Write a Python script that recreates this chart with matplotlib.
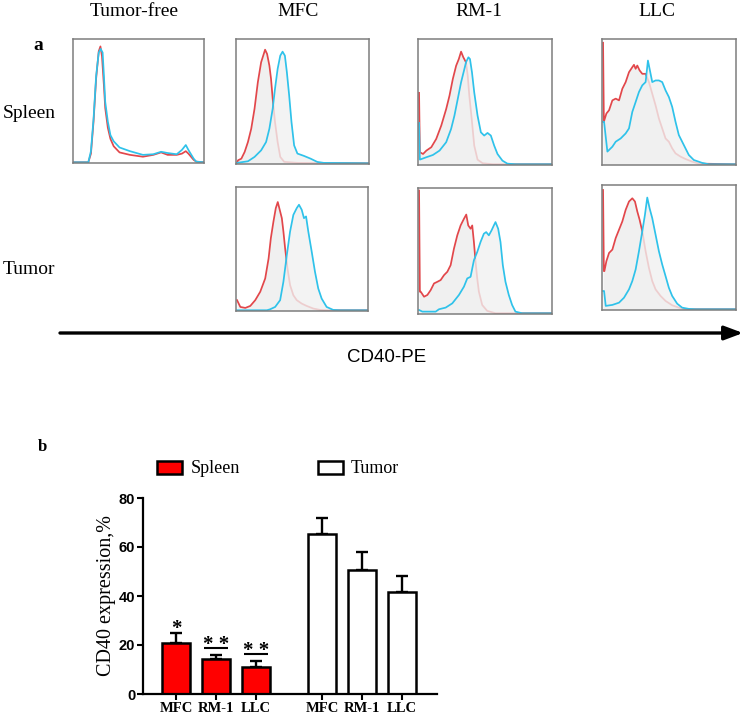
"""CD40 expression on spleen and tumor cells: flow histograms and bar summary."""

import matplotlib.pyplot as plt
import numpy as np

W, H = 743, 720
SERIF = ["Liberation Serif", "DejaVu Serif"]
SANS = ["Liberation Sans", "DejaVu Sans"]
RED = "#e2474b"
BLUE = "#2fc2ea"
FILL = "#f0f0f0"

COLUMNS = ["Tumor-free", "MFC", "RM-1", "LLC"]
ROWS = ["Spleen", "Tumor"]
AXIS_LABEL = "CD40-PE"

# histogram traces, (channel %, count % of panel height); red = control, blue = CD40
TF_SPLEEN_RED = [(0, 0), (11, 0), (13, 7), (15, 33), (17, 68), (19, 90), (20.3, 94), (21.5, 86),
                 (23, 62), (24, 44), (26, 28), (28, 19), (30.5, 13), (35, 8), (43, 6), (53, 4.5),
                 (61, 6), (67, 8), (72, 6), (79, 6), (83, 7), (86, 9), (88, 7), (92, 2), (94, 0.5),
                 (100, 0)]
TF_SPLEEN_BLUE = [(0, 0), (11, 0), (13, 9), (15, 35), (17, 70), (19, 89), (20.5, 92), (22, 89),
                  (23, 70), (24, 49), (26, 33), (28, 22), (30.5, 17), (35, 12), (43, 9), (53, 6),
                  (61, 6.5), (67, 8.5), (72, 7.5), (79, 6.5), (83, 10), (86, 14), (88, 10), (92, 3),
                  (94, 0.5), (100, 0)]

MFC_SPLEEN_RED = [(0, 0.5), (0.75, 2.4), (3.25, 3.7), (5.75, 9.1), (8.25, 17.1), (10.75, 27.8),
                  (13.25, 43.9), (15.75, 65.2), (18.25, 81.3), (20.25, 88), (21.25, 91.4),
                  (22.75, 88), (24.5, 78.6), (25.75, 67.9), (27, 51.9), (28.75, 33.2),
                  (30.75, 17.1), (32.75, 5.1), (35.75, 1.1), (45.75, 0.3), (100, 0)]
MFC_SPLEEN_BLUE = [(0, 0.3), (8.25, 1.6), (13.25, 5.1), (18.25, 10.4), (22, 17.1), (24.5, 27.8),
                   (27, 43.9), (28.75, 59.9), (30.75, 75.9), (32.75, 86.6), (34.5, 89.8),
                   (36.25, 86.6), (37.75, 73.3), (39.5, 54.5), (41.25, 33.2), (43.25, 14.4),
                   (45.75, 7.8), (50.75, 5.9), (55.75, 3.7), (60.75, 1.1), (65.75, 0.3), (100, 0)]

RM1_SPLEEN_RED = [(0, 57), (0.6, 9.6), (3, 8.2), (5.5, 10.9), (9.2, 13.6), (12.9, 20.2),
                  (16.7, 30.9), (20.4, 44.1), (22.9, 54.8), (25.4, 68.1), (27.9, 78.7), (29.9, 84),
                  (31.6, 89.9), (33.3, 85.4), (35.3, 81.4), (36.6, 70.7), (37.8, 54.8),
                  (39.6, 36.2), (41.5, 14.9), (44, 3.7), (47.8, 0.8), (55.5, 0), (100, 0)]
RM1_SPLEEN_BLUE = [(0, 33), (0.6, 3.7), (5.5, 5.6), (10.4, 7.4), (15.4, 10.9), (20.4, 17.6),
                   (24.1, 28.2), (26.6, 38.8), (29.1, 52.1), (31.6, 65.4), (34.1, 76.1),
                   (35.3, 81.4), (37.1, 85.4), (38.3, 84), (39.8, 73.4), (41.5, 57.4), (44, 38.8),
                   (46.5, 25.5), (49, 22.9), (51.5, 25), (54, 22.9), (56.5, 14.9), (59, 8.2),
                   (62.7, 2.9), (66.4, 0.5), (72.6, 0), (100, 0)]

LLC_SPLEEN_RED = [(0, 97), (0.6, 33.9), (2.5, 40.5), (4.5, 43.1), (7, 51), (9.5, 52.4), (12, 51),
                  (14.5, 60.3), (17, 65.6), (19.5, 73.5), (22, 77.5), (23.25, 79.4), (24.5, 76.2),
                  (25.75, 78.8), (27.5, 74.9), (29.5, 72.2), (32, 72.2), (34.5, 65.6), (37, 56.3),
                  (39.5, 47), (42, 36.5), (44.5, 28.6), (47, 20.6), (49.5, 18), (52, 12.7),
                  (54.5, 8.7), (58.25, 6.1), (62, 4.2), (67, 2.1), (72, 0.5), (100, 0)]
LLC_SPLEEN_BLUE = [(0, 33.9), (0.75, 33.9), (3.25, 10.1), (7, 14), (9.5, 18), (13.25, 20.6),
                   (17, 24.6), (19.5, 28.6), (22, 41.8), (24.5, 49.7), (27, 57.7), (29.5, 63),
                   (32, 65.6), (33.75, 82.8), (35, 76.2), (37, 65.6), (39.5, 66.9), (42, 66.9),
                   (44.5, 65.6), (47, 59), (49.5, 53.7), (52, 45.8), (54.5, 33.9), (57, 23.3),
                   (59.5, 18), (62, 12.7), (64.5, 7.4), (68.25, 3.4), (74.5, 1.1), (79.5, 0),
                   (100, 0)]

MFC_TUMOR_RED = [(0, 8.2), (2.5, 2.7), (6.3, 1.9), (10.1, 3.5), (13.9, 8.2), (17.7, 15),
                 (21.5, 25.8), (24.1, 42.1), (25.8, 58.4), (27.8, 72), (29.6, 82.9), (31.1, 87.8),
                 (32.9, 80.2), (34.2, 74.7), (35.4, 63.9), (36.7, 50.3), (38.5, 34), (40.5, 20.4),
                 (43, 12.2), (45.6, 8.2), (49.4, 5.4), (53.2, 3.5), (58.2, 1.4), (63.3, 0.3),
                 (68.4, 0), (100, 0)]
MFC_TUMOR_BLUE = [(0, 0), (22.8, 0), (25.3, 0.8), (29.1, 2.7), (32.9, 8.2), (35.4, 23.1),
                  (38, 44.8), (40.5, 63.9), (43, 77.4), (45.6, 82.9), (47.3, 85.6), (49.4, 81.5),
                  (51.1, 74.7), (52.7, 76.1), (54.4, 63.9), (57, 47.6), (59.5, 31.3), (62, 17.7),
                  (64.6, 9.5), (68.4, 2.7), (73.4, 0.3), (78.5, 0), (100, 0)]

RM1_TUMOR_RED = [(0, 98), (0.6, 17.2), (1.25, 17.2), (3.75, 13.2), (6.25, 14.6), (8.75, 18.5),
                 (11.25, 23.8), (13.75, 25.1), (16.25, 26.5), (18.75, 30.4), (21.25, 33.1),
                 (23.75, 38.4), (26.25, 51.6), (28.75, 62.2), (31.25, 70.1), (33.75, 75.4),
                 (35.5, 78.8), (37, 70.1), (38.75, 67.5), (40, 70.1), (41.25, 56.9), (42.5, 41),
                 (43.75, 27.8), (45, 17.2), (47.5, 6.6), (51.25, 1.9), (57.5, 0), (100, 0)]
RM1_TUMOR_BLUE = [(0, 2.6), (2.5, 1.3), (12.5, 1.3), (15, 3.2), (20, 4.5), (25, 7.9), (30, 14.6),
                  (33.75, 21.2), (36.25, 27.8), (38.75, 29.1), (41.25, 42.3), (43.75, 48.9),
                  (46.25, 56.9), (48.75, 63.5), (50.5, 64.8), (52.5, 62.2), (54.5, 66.1),
                  (56.25, 70.1), (57.5, 72.8), (59.5, 67.5), (61.25, 56.9), (63, 38.4),
                  (65, 25.1), (67.5, 14.6), (70, 6.6), (72.5, 1.3), (77.5, 0), (100, 0)]

LLC_TUMOR_RED = [(0, 96), (0.6, 30.7), (1, 30.7), (2.5, 38.7), (4.5, 45.3), (7, 48), (9.5, 57.3),
                 (12, 64), (14.5, 70.7), (17, 80), (19.5, 86.7), (22, 89.3), (24, 86.7),
                 (25.75, 78.7), (27.5, 72), (29.5, 62.7), (32, 46.7), (34.5, 33.3), (37, 22.7),
                 (39.5, 16), (43.25, 10.7), (47, 6.7), (52, 3.2), (57, 1.3), (62, 0), (100, 0)]
LLC_TUMOR_BLUE = [(0, 14.7), (0.75, 14.7), (2, 2.7), (7, 3.5), (12, 5.3), (15.75, 9.3),
                  (19.5, 16), (22, 22.7), (24.5, 32), (27, 46.7), (29.5, 62.7), (31.5, 76),
                  (33.25, 89.9), (35, 81.3), (37, 73.3), (39.5, 60), (42, 46.7), (44.5, 36),
                  (47, 26.7), (49.5, 17.3), (52, 10.7), (55.75, 4.5), (59.5, 1.3), (64.5, 0.3),
                  (69.5, 0), (100, 0)]

# bar summary (%), upper SEM only
BAR_GROUPS = ["MFC", "RM-1", "LLC"]
SPLEEN_MEAN = [20.7, 14.1, 10.9]
SPLEEN_ERR = [4.0, 1.8, 2.6]
TUMOR_MEAN = [65.2, 50.6, 41.8]
TUMOR_ERR = [6.5, 7.5, 6.4]
SPLEEN_SIG = ["*", "* *", "* *"]


def px_axes(fig, x0, y0, x1, y1):
    return fig.add_axes([x0 / W, 1 - y1 / H, (x1 - x0) / W, (y1 - y0) / H])


def draw_hist(ax, red, blue, fill=True):
    rx, ry = zip(*red)
    bx, by = zip(*blue)
    if fill:
        ax.fill_between(rx, ry, 0, color=FILL, lw=0, zorder=1)
    ax.plot(rx, ry, color=RED, lw=1.25, zorder=2)
    if fill:
        # light veil over the control trace where the two overlap
        ax.fill_between(bx, by, 0, color=FILL, alpha=0.8, lw=0, zorder=3)
    ax.plot(bx, by, color=BLUE, lw=1.25, zorder=4)
    ax.set_xlim(-0.8, 100)
    ax.set_ylim(-0.6, 100)
    ax.set_xticks([])
    ax.set_yticks([])
    for sp in ax.spines.values():
        sp.set_color("#7d7d7d")
        sp.set_linewidth(1.1)
        sp.set_zorder(5)


fig = plt.figure(figsize=(W / 100, H / 100), dpi=100)

# panel a: histogram grid (pixel boxes)
draw_hist(px_axes(fig, 73, 39, 204, 163), TF_SPLEEN_RED, TF_SPLEEN_BLUE, fill=False)
draw_hist(px_axes(fig, 236, 39, 369, 164), MFC_SPLEEN_RED, MFC_SPLEEN_BLUE)
draw_hist(px_axes(fig, 418, 39, 552, 165), RM1_SPLEEN_RED, RM1_SPLEEN_BLUE)
draw_hist(px_axes(fig, 602, 39, 736, 165), LLC_SPLEEN_RED, LLC_SPLEEN_BLUE)
draw_hist(px_axes(fig, 236, 187, 368, 311), MFC_TUMOR_RED, MFC_TUMOR_BLUE)
draw_hist(px_axes(fig, 418, 188, 552, 314), RM1_TUMOR_RED, RM1_TUMOR_BLUE)
draw_hist(px_axes(fig, 602, 185, 736, 310), LLC_TUMOR_RED, LLC_TUMOR_BLUE)

# overlay in pixel coordinates for labels and the arrow
ov = fig.add_axes([0, 0, 1, 1], zorder=-1)
ov.set_xlim(0, W)
ov.set_ylim(H, 0)
ov.axis("off")

for name, xc in zip(COLUMNS, [134, 298, 479, 657]):
    ov.text(xc, 11, name, ha="center", va="center", fontsize=14, family=SERIF)
ov.text(38, 46, "a", ha="center", va="center", fontsize=14, weight="bold", family=SERIF)
ov.text(3, 113, ROWS[0], ha="left", va="center", fontsize=14, family=SERIF)
ov.text(3, 269, ROWS[1], ha="left", va="center", fontsize=14, family=SERIF)
ov.annotate("", xy=(743, 333), xytext=(60, 333),
            arrowprops=dict(arrowstyle="-|>,head_length=0.8,head_width=0.3",
                            lw=2.4, color="black", mutation_scale=14,
                            shrinkA=0, shrinkB=0))
ov.text(387, 358, AXIS_LABEL, ha="center", va="center", fontsize=13.5, family=SANS)

# panel b: bar chart
ov.text(42, 447, "b", ha="center", va="center", fontsize=12, weight="bold", family=SERIF)
ov.text(107, 595, "CD40 expression,%", ha="center", va="center", rotation=90,
        fontsize=14.5, family=SERIF)

ax = px_axes(fig, 143, 498, 437, 694)
pos_s = np.arange(len(BAR_GROUPS))
pos_t = pos_s + 3.65
bw = 0.68

ax.errorbar(pos_s, SPLEEN_MEAN, yerr=[np.zeros(3), SPLEEN_ERR], fmt="none", ecolor="black",
            elinewidth=1.7, capsize=4.3, capthick=1.7, zorder=1)
ax.errorbar(pos_t, TUMOR_MEAN, yerr=[np.zeros(3), TUMOR_ERR], fmt="none", ecolor="black",
            elinewidth=1.7, capsize=4.3, capthick=1.7, zorder=1)
b_s = ax.bar(pos_s, SPLEEN_MEAN, width=bw, color="#ff0000", edgecolor="black", lw=1.8,
             label="Spleen", zorder=2)
b_t = ax.bar(pos_t, TUMOR_MEAN, width=bw, color="white", edgecolor="black", lw=1.8,
             label="Tumor", zorder=2)

for x, m, e, sig in zip(pos_s, SPLEEN_MEAN, SPLEEN_ERR, SPLEEN_SIG):
    top = m + e
    if sig.count("*") > 1:
        ax.plot([x - 0.29, x + 0.29], [top + 2.7, top + 2.7], color="black", lw=1.5,
                solid_capstyle="butt", clip_on=False)
        yc = top + 5.8
    else:
        yc = top + 3.3
    ax.text(x, yc - 3.6, sig, ha="center", va="baseline", fontsize=15, weight="bold",
            family=SERIF)

ax.set_xlim(-0.825, 6.525)
ax.set_ylim(0, 80)
ax.set_yticks([0, 20, 40, 60, 80])
ax.set_xticks(np.concatenate([pos_s, pos_t]))
ax.set_xticklabels(BAR_GROUPS + BAR_GROUPS, fontsize=10.5, weight="bold", family=SERIF)
for lab in ax.get_yticklabels():
    lab.set_family(SANS)
    lab.set_fontsize(10.5)
    lab.set_weight("bold")
ax.tick_params(axis="both", direction="out", length=4, width=1.5, pad=1.5)
for side in ["top", "right"]:
    ax.spines[side].set_visible(False)
for side in ["left", "bottom"]:
    ax.spines[side].set_linewidth(1.6)

ax.legend(handles=[b_s, b_t], loc="center left", bbox_to_anchor=(0.048, 1.148), ncol=2,
          frameon=False, prop={"family": SERIF, "size": 13}, handlelength=1.4,
          handleheight=0.75, handletextpad=0.45, columnspacing=4.3, borderpad=0,
          borderaxespad=0)

fig.savefig("out.png", dpi=100)
